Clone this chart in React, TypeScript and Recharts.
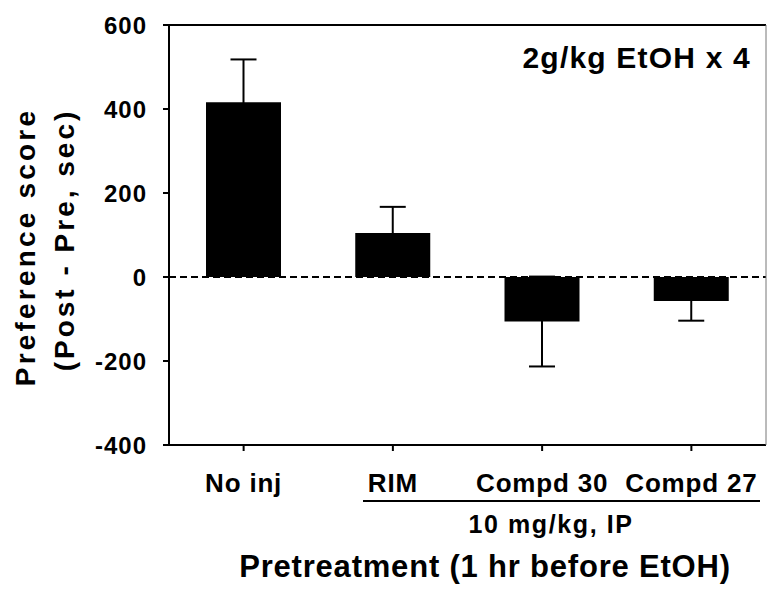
import { BarChart, Bar, XAxis, YAxis, ErrorBar, ReferenceLine } from 'recharts'

const groups = ['No inj', 'RIM', 'Compd 30', 'Compd 27']
const scores = [416, 105, -106, -57]
const sems = [102, 62, 107, 47]
const yTicks = [-400, -200, 0, 200, 400, 600]

const data = groups.map((g, i) => ({ group: g, score: scores[i], sem: sems[i] }))

const FONT = '"Liberation Sans", Arial, sans-serif'

function YLabel() {
  return (
    <g fontFamily={FONT} fontWeight="bold" fill="#000">
      <text x={35} y={247} transform="rotate(-90 35 247)" textAnchor="middle" fontSize={28} letterSpacing={3.2}>
        Preference score
      </text>
      <text x={74} y={240} transform="rotate(-90 74 240)" textAnchor="middle" fontSize={28} letterSpacing={3}>
        (Post - Pre, sec)
      </text>
    </g>
  )
}

function XLabel() {
  return (
    <g fontFamily={FONT} fontWeight="bold" fill="#000">
      <line x1={363} x2={760} y1={501} y2={501} stroke="#000" strokeWidth={2} />
      <text x={551} y={533} textAnchor="middle" fontSize={25} letterSpacing={1.6}>
        10 mg/kg, IP
      </text>
      <text x={485} y={577} textAnchor="middle" fontSize={31} letterSpacing={0.8}>
        Pretreatment (1 hr before EtOH)
      </text>
    </g>
  )
}

function TitleLabel() {
  return (
    <text x={751} y={68} textAnchor="end" fontFamily={FONT} fontWeight="bold" fontSize={30} letterSpacing={1.2} fill="#000">
      2g/kg EtOH x 4
    </text>
  )
}

export default function App() {
  return (
    <div style={{ position: 'absolute', left: 0, top: 0, width: 768, height: 589, background: '#fff' }}>
      <BarChart width={768} height={589} data={data} margin={{ top: 25, right: 0, bottom: 0, left: 0 }}>
        <XAxis
          dataKey="group"
          height={144}
          interval={0}
          axisLine={{ stroke: '#000', strokeWidth: 2 }}
          tickLine={{ stroke: '#000', strokeWidth: 2 }}
          tickSize={6}
          tickMargin={23}
          tick={{ fill: '#000', fontSize: 26, fontWeight: 'bold', fontFamily: FONT, letterSpacing: 0.8 }}
          label={<XLabel />}
        />
        <YAxis
          yAxisId="left"
          width={169}
          domain={[-400, 600]}
          ticks={yTicks}
          allowDataOverflow
          axisLine={{ stroke: '#000', strokeWidth: 2 }}
          tickLine={{ stroke: '#000', strokeWidth: 2 }}
          tickSize={6}
          tickMargin={16}
          tick={{ fill: '#000', fontSize: 24, fontWeight: 'bold', fontFamily: FONT, letterSpacing: 1 }}
          label={<YLabel />}
        />
        <YAxis
          yAxisId="right"
          orientation="right"
          width={2}
          domain={[-400, 600]}
          tick={false}
          tickLine={false}
          axisLine={{ stroke: '#777', strokeWidth: 1 }}
        />
        <Bar yAxisId="left" dataKey="score" fill="#000" barSize={75} isAnimationActive={false}>
          <ErrorBar dataKey="sem" width={13} stroke="#000" strokeWidth={2} direction="y" isAnimationActive={false} />
        </Bar>
        <ReferenceLine yAxisId="left" y={0} stroke="#000" strokeWidth={2} strokeDasharray="7 4" />
        <ReferenceLine yAxisId="left" y={600} stroke="#000" strokeWidth={2} label={<TitleLabel />} />
      </BarChart>
    </div>
  )
}
